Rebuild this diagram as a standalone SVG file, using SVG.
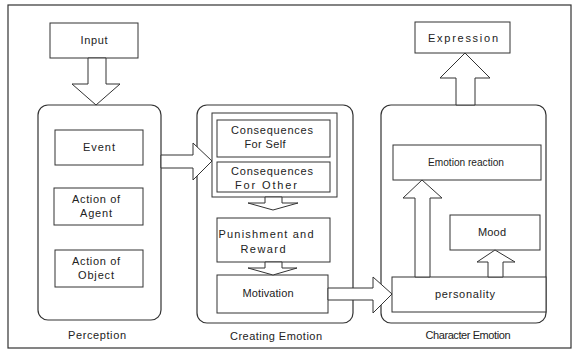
<svg xmlns="http://www.w3.org/2000/svg" width="578" height="352" viewBox="0 0 578 352">
<style>
.box{fill:#fff;stroke:#333;stroke-width:1}
.grp{fill:#fff;stroke:#333;stroke-width:1.2}
.arr{fill:#fff;stroke:#333;stroke-width:1;stroke-linejoin:miter}
text{font-family:"Liberation Sans",Arial,sans-serif;font-size:11px;fill:#222;text-anchor:middle}
</style>
<rect x="0" y="0" width="578" height="352" fill="#fff"/>
<rect x="8" y="5" width="563" height="343" fill="none" stroke="#333" stroke-width="1.2"/>

<g id="input">
<rect class="box" x="50" y="23" width="88" height="35"/>
<text x="94" y="44" textLength="27" lengthAdjust="spacing">Input</text>
</g>

<g id="perception">
<rect class="grp" x="38" y="105" width="123" height="215" rx="10"/>
<text x="97" y="339" textLength="58" lengthAdjust="spacing">Perception</text>
</g>
<g id="event">
<rect class="box" x="55" y="130" width="88" height="35"/>
<text x="99" y="151" textLength="32" lengthAdjust="spacing">Event</text>
</g>
<g id="action-agent">
<rect class="box" x="54" y="188" width="89" height="37"/>
<text x="96" y="203" textLength="48" lengthAdjust="spacing">Action of</text>
<text x="96" y="217" textLength="32" lengthAdjust="spacing">Agent</text>
</g>
<g id="action-object">
<rect class="box" x="55" y="250" width="88" height="37"/>
<text x="96" y="265" textLength="48" lengthAdjust="spacing">Action of</text>
<text x="96" y="279" textLength="36" lengthAdjust="spacing">Object</text>
</g>

<g id="creating-emotion">
<rect class="grp" x="197" y="105" width="156" height="218" rx="10"/>
<text x="276" y="340" textLength="92" lengthAdjust="spacing">Creating Emotion</text>
</g>
<g id="consequences">
<rect class="box" x="212" y="113" width="125" height="84"/>
</g>
<g id="cons-self">
<rect class="box" x="217" y="120" width="113" height="37"/>
<text x="272" y="134" textLength="82" lengthAdjust="spacing">Consequences</text>
<text x="265" y="148" textLength="41" lengthAdjust="spacing">For Self</text>
</g>
<g id="cons-other">
<rect class="box" x="217" y="162" width="113" height="30"/>
<text x="272" y="175" textLength="82" lengthAdjust="spacing">Consequences</text>
<text x="266" y="189" textLength="62" lengthAdjust="spacing">For Other</text>
</g>
<g id="punishment">
<rect class="box" x="217" y="218" width="113" height="44"/>
<text x="266" y="238" textLength="95" lengthAdjust="spacing">Punishment and</text>
<text x="263" y="253" textLength="45" lengthAdjust="spacing">Reward</text>
</g>
<g id="motivation">
<rect class="box" x="217" y="275" width="111" height="38"/>
<text x="268" y="297" textLength="51" lengthAdjust="spacing">Motivation</text>
</g>

<g id="character-emotion">
<rect class="grp" x="381" y="105" width="165" height="218" rx="10"/>
<text x="468" y="339" textLength="85" lengthAdjust="spacing">Character Emotion</text>
</g>
<g id="expression">
<rect class="box" x="415" y="22" width="95" height="31"/>
<text x="463" y="42" textLength="70" lengthAdjust="spacing">Expression</text>
</g>
<g id="emotion-reaction">
<rect class="box" x="393" y="145" width="148" height="35"/>
<text x="466" y="166" textLength="76" lengthAdjust="spacingAndGlyphs">Emotion reaction</text>
</g>
<g id="mood">
<rect class="box" x="450" y="215" width="90" height="35"/>
<text x="492" y="236" textLength="28" lengthAdjust="spacing">Mood</text>
</g>
<g id="personality">
<rect class="box" x="392" y="277" width="154" height="35"/>
<text x="465" y="298" textLength="60" lengthAdjust="spacing">personality</text>
</g>

<g id="connectors">
<polygon class="arr" points="88,58 106,58 106,84 120,84 96,105 72,84 88,84"/>
<polygon class="arr" points="161,155 193,155 193,143 212,161 193,180 193,168 161,168"/>
<polygon class="arr" points="265,197 282,197 282,203 298,203 273,210 248,203 265,203"/>
<polygon class="arr" points="265,262 282,262 282,268 297,268 273,275 248,268 265,268"/>
<polygon class="arr" points="328,288 373,288 373,277 392,294 373,313 373,300 328,300"/>
<polygon class="arr" points="456,105 456,78 440,78 465,53 490,78 475,78 475,105"/>
<polygon class="arr" points="415,277 415,198 403,198 422,180 442,198 430,198 430,277"/>
<polygon class="arr" points="488,277 488,262 477,262 495,250 515,262 503,262 503,277"/>
</g>
</svg>
